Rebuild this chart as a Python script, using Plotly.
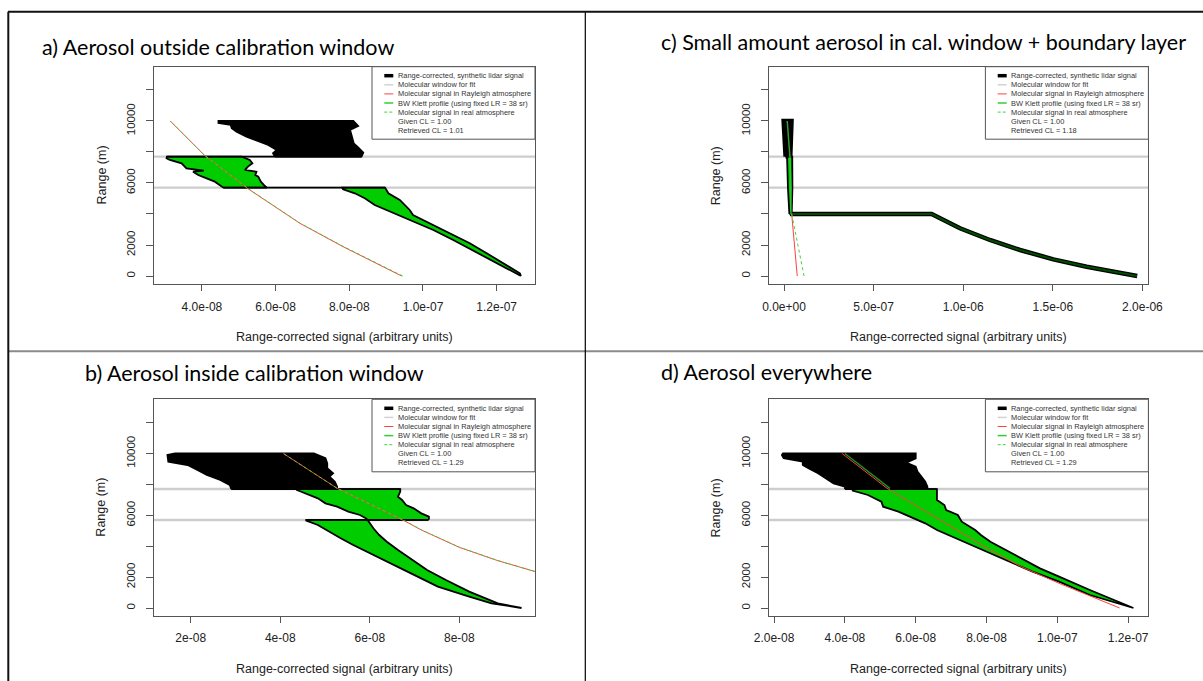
import plotly.graph_objects as go

# ---------------- DATA ----------------
# Heights in m; signal values in units of 1e-8 (panels a, b, d) or 1e-7 (panel c)
WINDOW_BOUNDS = [5700, 7700]

Y_TICKS = [0, 2000, 4000, 6000, 8000, 10000, 12000]
Y_TICKTEXT = ["0", "2000", "", "6000", "", "10000", ""]

A_XTICKS = [4e-8, 6e-8, 8e-8, 1e-7, 1.2e-7]
A_XTICKTEXT = ["4.0e-08", "6.0e-08", "8.0e-08", "1.0e-07", "1.2e-07"]
B_XTICKS = [2e-8, 4e-8, 6e-8, 8e-8]
B_XTICKTEXT = ["2e-08", "4e-08", "6e-08", "8e-08"]
C_XTICKS = [0.0, 5e-7, 1e-6, 1.5e-6, 2e-6]
C_XTICKTEXT = ["0.0e+00", "5.0e-07", "1.0e-06", "1.5e-06", "2.0e-06"]
D_XTICKS = [2e-8, 4e-8, 6e-8, 8e-8, 1e-7, 1.2e-7]
D_XTICKTEXT = ["2.0e-08", "4.0e-08", "6.0e-08", "8.0e-08", "1.0e-07", "1.2e-07"]

LEGEND_LABELS = [
    "Range-corrected, synthetic lidar signal",
    "Molecular window for fit",
    "Molecular signal in Rayleigh atmosphere",
    "BW Klett profile (using fixed LR = 38 sr)",
    "Molecular signal in real atmosphere",
    "Given CL = 1.00",
]
RETRIEVED_CL = {"a": "1.01", "b": "1.29", "c": "1.18", "d": "1.29"}

TITLES = {
    "a": "a) Aerosol outside calibration window",
    "b": "b) Aerosol inside calibration window",
    "c": "c) Small amount aerosol in cal. window + boundary layer",
    "d": "d) Aerosol everywhere",
}

# ---- panel a (x in 1e-8) ----
A_UP_LH = [7700, 7914, 8129, 8452, 8667, 8989, 9312, 9527, 9742, 9870, 10000]
A_UP_LX = [5.98, 5.93, 6.03, 5.80, 5.57, 5.21, 4.94, 4.81, 4.78, 4.45, 4.45]
A_UP_RH = [7700, 7957, 8301, 8559, 9097, 9419, 9677, 10000]
A_UP_RX = [8.33, 8.38, 8.24, 8.12, 8.06, 8.02, 8.24, 8.11]
A_MID_LH = [5700, 5871, 6086, 6301, 6516, 6731, 6800, 6946, 7269, 7484, 7591, 7700]
A_MID_LX = [4.58, 4.49, 4.35, 4.13, 3.90, 3.76, 4.05, 3.58, 3.45, 3.13, 3.04, 3.05]
A_MID_RH = [5700, 5806, 6086, 6409, 6516, 6731, 6839, 7054, 7269, 7480, 7700]
A_MID_RX = [5.76, 5.71, 5.60, 5.53, 5.45, 5.48, 5.17, 5.25, 5.37, 5.30, 5.08]
A_LOW_LH = [0, 387, 1032, 1677, 2323, 2968, 3613, 4151, 4581, 5011, 5333, 5592, 5700]
A_LOW_LX = [12.66, 12.36, 11.86, 11.36, 10.82, 10.28, 9.64, 9.10, 8.69, 8.42, 8.15, 7.83, 7.81]
A_LOW_RH = [0, 174, 819, 1465, 2110, 2755, 3400, 3935, 4258, 4903, 5333, 5700]
A_LOW_RX = [12.66, 12.63, 12.18, 11.73, 11.27, 10.73, 10.19, 9.73, 9.64, 9.37, 9.06, 8.97]
A_RAY_H = [0, 817, 1892, 3400, 4323, 5613, 7763, 10000]
A_RAY_X = [9.42, 8.74, 7.83, 6.66, 6.07, 5.26, 4.08, 3.14]
A_REAL_H = [0, 817, 1892, 3400, 4323, 5613, 7763, 10000]
A_REAL_X = [9.45, 8.76, 7.85, 6.67, 6.08, 5.27, 4.08, 3.14]

# ---- panel b (x in 1e-8) ----
B_UP_LH = [7700, 7961, 8285, 8608, 8932, 9256, 9472, 9903, 10000]
B_UP_LX = [2.91, 2.87, 2.66, 2.36, 2.15, 1.93, 1.50, 1.48, 1.65]
B_UP_RH = [7700, 7851, 8175, 8500, 8718, 9042, 9365, 9689, 10000]
B_UP_RX = [5.27, 5.27, 5.22, 5.10, 5.18, 5.05, 5.05, 5.01, 4.75]
B_MID_LH = [5700, 5804, 6019, 6235, 6559, 6775, 7098, 7421, 7637, 7700]
B_MID_LX = [5.95, 5.91, 5.78, 5.52, 5.27, 5.01, 4.84, 4.58, 4.37, 4.37]
B_MID_RH = [5700, 5761, 5911, 6127, 6451, 6667, 6990, 7206, 7529, 7700]
B_MID_RX = [7.30, 7.32, 7.32, 7.15, 6.98, 6.81, 6.72, 6.63, 6.68, 6.68]
B_LOW_LH = [0, 300, 733, 1380, 2244, 2891, 3539, 4078, 4509, 4940, 5372, 5651, 5700]
B_LOW_LX = [9.39, 8.72, 8.22, 7.52, 6.92, 6.46, 6.00, 5.63, 5.35, 5.10, 4.84, 4.58, 4.58]
B_LOW_RH = [0, 302, 1057, 1812, 2460, 3107, 3754, 4292, 4725, 5157, 5700]
B_LOW_RX = [9.39, 8.86, 8.22, 7.70, 7.28, 6.95, 6.63, 6.38, 6.21, 6.08, 5.95]
B_RAY_H = [2352, 3064, 3927, 5049, 5587, 7748, 10000]
B_RAY_X = [9.70, 8.86, 8.00, 7.15, 6.81, 5.27, 4.07]
B_REAL_H = [2352, 3064, 3927, 5049, 5587, 7748, 10000]
B_REAL_X = [9.70, 8.87, 8.01, 7.16, 6.82, 5.27, 4.07]

# ---- panel c (x in 1e-7) ----
C_UP_LH = [7700, 8800, 10000]
C_UP_LX = [0.09, 0.03, -0.02]
C_UP_RH = [7700, 8800, 10000]
C_UP_RX = [0.35, 0.40, 0.42]
C_MID_LH = [4000, 5700, 7700]
C_MID_LX = [0.30, 0.22, 0.17]
C_MID_RH = [4000, 5700, 7700]
C_MID_RX = [0.43, 0.47, 0.46]
C_BL_H = [4000, 4000, 3077, 2323, 1677, 1075, 600, 277, 0]
C_BL_X = [0.33, 8.24, 9.82, 11.49, 13.17, 15.03, 16.89, 18.37, 19.71]
C_RAY_H = [0, 4000]
C_RAY_X = [0.74, 0.43]
C_REAL_H = [0, 4000]
C_REAL_X = [1.12, 0.43]
C_KLETT_H = [4000, 5700, 7700, 10000]
C_KLETT_X = [0.39, 0.39, 0.33, 0.18]

# ---- panel d (x in 1e-8) ----
D_UP_LH = [7700, 7851, 8071, 8393, 8718, 9042, 9256, 9472, 9689, 9903, 10000]
D_UP_LX = [4.00, 4.00, 3.68, 3.46, 3.24, 2.97, 2.81, 2.81, 2.27, 2.22, 2.25]
D_UP_RH = [7700, 7851, 8175, 8500, 8824, 9148, 9407, 9689, 10000]
D_UP_RX = [6.33, 6.33, 6.27, 6.16, 6.05, 6.00, 5.73, 6.00, 6.00]
D_LOW_LH = [0, 841, 1703, 2352, 3107, 3646, 4188, 4615, 5049, 5480, 5911, 6235, 6559, 6882, 7314, 7594, 7700]
D_LOW_LX = [12.15, 10.92, 10.05, 9.30, 8.54, 8.00, 7.46, 7.03, 6.60, 6.27, 5.84, 5.51, 5.08, 5.03, 4.65, 4.22, 4.22]
D_LOW_RH = [0, 1165, 2028, 2568, 3215, 3754, 4292, 4725, 5049, 5587, 6019, 6343, 6667, 6990, 7529, 7700]
D_LOW_RX = [12.15, 10.92, 10.05, 9.51, 8.97, 8.54, 8.11, 7.84, 7.68, 7.30, 7.19, 6.86, 6.81, 6.60, 6.60, 6.60]
D_RAY_H = [0, 1597, 2673, 3754, 7748, 10000]
D_RAY_X = [11.76, 10.05, 8.98, 8.11, 5.19, 3.92]
D_KLETT_H = [7748, 10000]
D_KLETT_X = [5.27, 4.00]

# ---------------- LAYOUT / STYLE ----------------
W, H = 1203, 681
def fx(px):
    return px / W
def fy(py):
    return 1 - py / H

AX_FONT = "Liberation Sans, Arial, sans-serif"
TITLE_FONT = "Lato, Carlito, sans-serif"
BOX_COL = "#555555"
GREEN_FILL = "#00cc00"
KLETT_ON_BLACK = "rgba(0,170,0,0.45)"
RED = "#ff4040"
GREEN_DASH = "#3fd43f"
WIN_GRAY = "#cdcdcd"

# pixel boxes: left, right, top, bottom
PANELS = {
    "a": dict(sfx="", box=(154, 535, 66.7, 284.3), xr=[2.70e-8, 1.304e-7], yr=[-535, 13500],
              xt=A_XTICKS, xtt=A_XTICKTEXT, unit=1e-8, title_xy=(40, 47)),
    "c": dict(sfx="2", box=(768.8, 1148.4, 66.7, 284.3), xr=[-8.48e-8, 2.0335e-6], yr=[-535, 13500],
              xt=C_XTICKS, xtt=C_XTICKTEXT, unit=1e-7, title_xy=(659, 41.7)),
    "b": dict(sfx="3", box=(154, 535, 399.3, 616), xr=[1.18e-8, 9.69e-8], yr=[-518, 13508],
              xt=B_XTICKS, xtt=B_XTICKTEXT, unit=1e-8, title_xy=(83.4, 372.7)),
    "d": dict(sfx="4", box=(768.8, 1148.4, 399.3, 616), xr=[1.85e-8, 1.2573e-7], yr=[-518, 13508],
              xt=D_XTICKS, xtt=D_XTICKTEXT, unit=1e-8, title_xy=(659.3, 372)),
}

fig = go.Figure()
layout = dict(width=W, height=H, autosize=False, margin=dict(l=0, r=0, t=0, b=0, pad=0, autoexpand=False),
              paper_bgcolor="white", plot_bgcolor="white", showlegend=False)
shapes = []
annotations = []

def axref(sfx):
    return "x" + sfx, "y" + sfx

def poly(lx, lh, rx, rh, unit):
    xs = [v * unit for v in lx] + [v * unit for v in rx[::-1]]
    ys = list(lh) + list(rh[::-1])
    xs.append(xs[0]); ys.append(ys[0])
    return xs, ys

def add_block(key, lx, lh, rx, rh, fill, lw=1.8):
    p = PANELS[key]
    xa, ya = axref(p["sfx"])
    xs, ys = poly(lx, lh, rx, rh, p["unit"])
    fig.add_trace(go.Scatter(x=xs, y=ys, mode="lines", fill="toself", fillcolor=fill,
                             line=dict(color="black", width=lw), xaxis=xa, yaxis=ya,
                             hoverinfo="skip"))

def add_connector(key, lower, upper):
    p = PANELS[key]
    xa, ya = axref(p["sfx"])
    vals = [lower[0][-1], lower[2][-1], upper[0][0], upper[2][0]]
    h = lower[1][-1]
    fig.add_trace(go.Scatter(x=[min(vals) * p["unit"], max(vals) * p["unit"]], y=[h, h],
                             mode="lines", line=dict(color="black", width=1.8),
                             xaxis=xa, yaxis=ya, hoverinfo="skip"))

def add_line(key, xs, hs, color, width, dash="solid"):
    p = PANELS[key]
    xa, ya = axref(p["sfx"])
    fig.add_trace(go.Scatter(x=[v * p["unit"] for v in xs], y=hs, mode="lines",
                             line=dict(color=color, width=width, dash=dash),
                             xaxis=xa, yaxis=ya, hoverinfo="skip"))

# ---- axes, window lines, titles, legends ----
for key, p in PANELS.items():
    L, R, T, B = p["box"]
    sfx = p["sfx"]
    layout["xaxis" + sfx] = dict(domain=[fx(L), fx(R)], range=p["xr"], anchor="y" + sfx,
                                 tickvals=p["xt"], ticktext=p["xtt"], ticks="outside", ticklen=6,
                                 tickcolor=BOX_COL, showline=True, linecolor=BOX_COL, linewidth=1,
                                 mirror=True, showgrid=False, zeroline=False, automargin=False,
                                 tickfont=dict(family=AX_FONT, size=12, color="#222"),
                                 ticklabelstandoff=5)
    layout["yaxis" + sfx] = dict(domain=[fy(B), fy(T)], range=p["yr"], anchor="x" + sfx,
                                 tickvals=Y_TICKS, ticktext=Y_TICKTEXT, ticks="outside", ticklen=7,
                                 tickcolor=BOX_COL, showline=True, linecolor=BOX_COL, linewidth=1,
                                 mirror=True, showgrid=False, zeroline=False, tickangle=-90,
                                 automargin=False,
                                 tickfont=dict(family=AX_FONT, size=11.5, color="#222"),
                                 ticklabelstandoff=6)
    for hb in WINDOW_BOUNDS:
        shapes.append(dict(type="line", xref="x" + sfx + " domain", yref="y" + sfx,
                           x0=0, x1=1, y0=hb, y1=hb, layer="below",
                           line=dict(color=WIN_GRAY, width=2.4)))
    annotations.append(dict(x=fx((L + R) / 2), y=fy(B + 53), xref="paper", yref="paper",
                            text="Range-corrected signal (arbitrary units)", showarrow=False,
                            xanchor="center", yanchor="middle",
                            font=dict(family=AX_FONT, size=12.5, color="#222")))
    annotations.append(dict(x=fx(L - 53), y=fy((T + B) / 2), xref="paper", yref="paper",
                            text="Range (m)", showarrow=False, textangle=-90,
                            xanchor="center", yanchor="middle",
                            font=dict(family=AX_FONT, size=12.5, color="#222")))
    tx, ty = p["title_xy"]
    annotations.append(dict(x=fx(tx), y=fy(ty), xref="paper", yref="paper", text=TITLES[key],
                            showarrow=False, xanchor="left", yanchor="middle",
                            font=dict(family=TITLE_FONT, size=21.5, color="black")))
    lg_l = R - 163
    shapes.append(dict(type="rect", xref="paper", yref="paper", x0=fx(lg_l), x1=fx(R),
                       y0=fy(T + 72.5), y1=fy(T), fillcolor="white", layer="above",
                       line=dict(color=BOX_COL, width=1)))
    labels = LEGEND_LABELS + ["Retrieved CL = " + RETRIEVED_CL[key]]
    styles = [("black", 3.5, "solid"), ("#d3d3d3", 1.5, "solid"), (RED, 1, "solid"),
              ("#33cc33", 1.5, "solid"), (GREEN_DASH, 1, "3px,2px"), None, None]
    for i, lab in enumerate(labels):
        ry = T + 9 + i * 9.1
        st = styles[i]
        if st is not None:
            shapes.append(dict(type="line", xref="paper", yref="paper",
                               x0=fx(lg_l + 12.3), x1=fx(lg_l + 21.3), y0=fy(ry), y1=fy(ry),
                               layer="above", line=dict(color=st[0], width=st[1], dash=st[2])))
        annotations.append(dict(x=fx(lg_l + 23.5), y=fy(ry), xref="paper", yref="paper",
                                text=lab, showarrow=False, xanchor="left", yanchor="middle",
                                font=dict(family=AX_FONT, size=7.4, color="#333")))

# ---- data traces ----
a_low = (A_LOW_LX, A_LOW_LH, A_LOW_RX, A_LOW_RH)
a_mid = (A_MID_LX, A_MID_LH, A_MID_RX, A_MID_RH)
a_up = (A_UP_LX, A_UP_LH, A_UP_RX, A_UP_RH)
add_block("a", *a_up, fill="black")
add_block("a", *a_mid, fill=GREEN_FILL)
add_block("a", *a_low, fill=GREEN_FILL)
add_connector("a", a_low, a_mid)
add_connector("a", a_mid, a_up)
add_line("a", A_RAY_X, A_RAY_H, RED, 1)
add_line("a", A_REAL_X, A_REAL_H, GREEN_DASH, 1, "3px,3px")

b_low = (B_LOW_LX, B_LOW_LH, B_LOW_RX, B_LOW_RH)
b_mid = (B_MID_LX, B_MID_LH, B_MID_RX, B_MID_RH)
b_up = (B_UP_LX, B_UP_LH, B_UP_RX, B_UP_RH)
add_block("b", *b_up, fill="black")
add_block("b", *b_mid, fill=GREEN_FILL)
add_block("b", *b_low, fill=GREEN_FILL)
add_connector("b", b_low, b_mid)
add_connector("b", b_mid, b_up)
add_line("b", B_RAY_X, B_RAY_H, RED, 1)
add_line("b", B_REAL_X, B_REAL_H, GREEN_DASH, 1, "3px,3px")

c_mid = (C_MID_LX, C_MID_LH, C_MID_RX, C_MID_RH)
c_up = (C_UP_LX, C_UP_LH, C_UP_RX, C_UP_RH)
add_block("c", *c_up, fill="black", lw=4.5)
add_block("c", *c_mid, fill=GREEN_FILL, lw=1.8)
add_connector("c", c_mid, c_up)
add_line("c", C_BL_X, C_BL_H, "black", 4.5)
add_line("c", C_BL_X, C_BL_H, KLETT_ON_BLACK, 2)
add_line("c", C_KLETT_X, C_KLETT_H, "rgba(60,200,60,0.8)", 1.5)
add_line("c", C_RAY_X, C_RAY_H, RED, 1)
add_line("c", C_REAL_X, C_REAL_H, GREEN_DASH, 1, "3px,3px")

d_low = (D_LOW_LX, D_LOW_LH, D_LOW_RX, D_LOW_RH)
d_up = (D_UP_LX, D_UP_LH, D_UP_RX, D_UP_RH)
add_block("d", *d_up, fill="black")
add_block("d", *d_low, fill=GREEN_FILL)
add_connector("d", d_low, d_up)
add_line("d", D_RAY_X, D_RAY_H, RED, 1)
add_line("d", D_KLETT_X, D_KLETT_H, "#1f8f1f", 1.5)

# ---- frame lines of the composite figure ----
shapes.append(dict(type="line", xref="paper", yref="paper", x0=fx(8), x1=1, y0=fy(351.3), y1=fy(351.3),
                   layer="above", line=dict(color="#8a8a8a", width=2)))
shapes.append(dict(type="line", xref="paper", yref="paper", x0=fx(585.3), x1=fx(585.3), y0=fy(11.7), y1=0,
                   layer="above", line=dict(color="black", width=1.2)))
shapes.append(dict(type="line", xref="paper", yref="paper", x0=fx(8), x1=1, y0=fy(11.7), y1=fy(11.7),
                   layer="above", line=dict(color="#111", width=2)))
shapes.append(dict(type="line", xref="paper", yref="paper", x0=fx(8.3), x1=fx(8.3), y0=fy(11.7), y1=0,
                   layer="above", line=dict(color="#111", width=2)))

layout["shapes"] = shapes
layout["annotations"] = annotations
fig.update_layout(**layout)
fig.write_html("out.html", config={"displayModeBar": False},
               post_script="document.body.style.margin='0';document.body.style.padding='0';"
                           "document.documentElement.style.overflow='hidden';")
